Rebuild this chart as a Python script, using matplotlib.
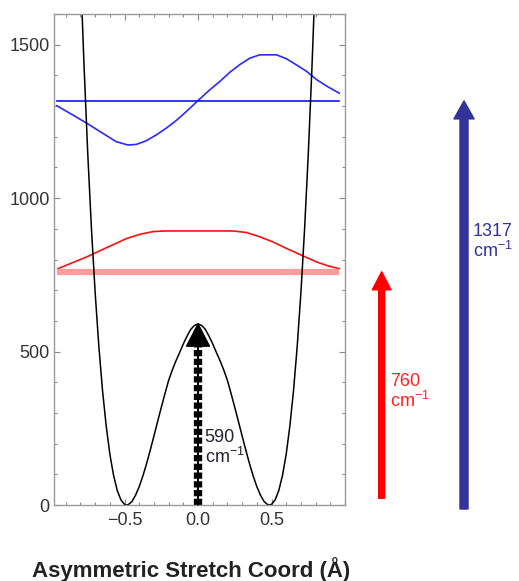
import matplotlib
matplotlib.use("Agg")
import matplotlib.pyplot as plt
from matplotlib.ticker import MultipleLocator

plt.rcParams['font.family'] = ['Liberation Sans', 'DejaVu Sans']
plt.rcParams['mathtext.fontset'] = 'custom'
plt.rcParams['mathtext.rm'] = 'Liberation Sans'

# double well potential
pot_x = [-0.8, -0.775, -0.75, -0.725, -0.7, -0.675, -0.65, -0.625, -0.6, -0.575, -0.55,
         -0.525, -0.5, -0.485, -0.475, -0.45, -0.425, -0.4, -0.375, -0.35, -0.325, -0.3,
         -0.275, -0.25, -0.225, -0.2, -0.175, -0.15, -0.125, -0.1, -0.075, -0.05, -0.025,
         0.0,
         0.025, 0.05, 0.075, 0.1, 0.125, 0.15, 0.175, 0.2, 0.225, 0.25, 0.275, 0.3,
         0.325, 0.35, 0.375, 0.4, 0.425, 0.45, 0.475, 0.485, 0.5, 0.525, 0.55,
         0.575, 0.6, 0.625, 0.65, 0.675, 0.7, 0.725, 0.75, 0.775, 0.8]
pot_v = [1747, 1424, 1142, 899, 692, 518, 374, 258, 166, 97, 48,
         17, 2, 0, 1, 11, 32, 60, 95, 135, 179, 225,
         272, 318, 363, 406, 440, 470, 497, 525, 550, 572, 585,
         590,
         585, 572, 550, 525, 497, 470, 440, 406, 363, 318, 272, 225,
         179, 135, 95, 60, 32, 11, 1, 0, 2, 17, 48,
         97, 166, 258, 374, 518, 692, 899, 1142, 1424, 1747]

# levels (cm-1)
barrier = 590
e0 = 760
e1 = 1317
level_x = [-0.957, 0.96]

# ground state wavefunction drawn on the 760 level
wf0_x = [-0.954, -0.852, -0.750, -0.670, -0.579, -0.488, -0.397, -0.306, -0.216, 0.011,
         0.239, 0.329, 0.420, 0.511, 0.602, 0.704, 0.807, 0.886, 0.961]
wf0_y = [770, 790, 810, 828, 848, 868, 882, 891, 893, 893,
         893, 888, 874, 857, 836, 814, 792, 779, 770]

# first excited wavefunction drawn on the 1317 level
wf1_x = [-0.961, -0.852, -0.750, -0.647, -0.557, -0.477, -0.420, -0.352, -0.284, -0.216,
         -0.148, -0.080, 0.000, 0.080, 0.148, 0.216, 0.284, 0.352, 0.420, 0.534,
         0.602, 0.670, 0.739, 0.807, 0.886, 0.961]
wf1_y = [1301, 1271, 1242, 1211, 1184, 1173, 1175, 1187, 1206, 1228,
         1253, 1282, 1318, 1353, 1380, 1410, 1435, 1456, 1467, 1467,
         1454, 1434, 1413, 1386, 1362, 1342]

fig = plt.figure(figsize=(5.19, 5.81), dpi=100)
ax = fig.add_axes([54/519, 1-505/581, 291/519, 491/581])

ax.plot(wf1_x, wf1_y, color='#2a2aff', lw=1.2)
ax.plot(level_x, [e1, e1], color='#1010ff', lw=1.2)
ax.plot(wf0_x, wf0_y, color='#ff1010', lw=1.2)
ax.plot(level_x, [e0, e0], color='#ff9c9c', lw=4.5, solid_capstyle='butt')
ax.plot(pot_x, pot_v, color='black', lw=1.1)

# dotted barrier arrow
ax.plot([0, 0], [0, barrier - 40], color='black', lw=6, dashes=(0.75, 0.3))
ax.annotate('', xy=(0, barrier), xytext=(0, 0),
            arrowprops=dict(width=0.01, headwidth=16.5, headlength=16, shrink=0,
                            color='black'))
ax.text(0.045, 186, '590\n$\\mathregular{cm^{-1}}$', color='#222233', fontsize=13,
        ha='left', va='center', linespacing=1.05)

# transition arrows to the right of the axes
ax.annotate('', xy=(1.126, e0), xytext=(1.126, 22),
            xycoords=('axes fraction', 'data'), textcoords=('axes fraction', 'data'),
            arrowprops=dict(width=4.3, headwidth=13.5, headlength=13, shrink=0,
                            color='#ff0000'), annotation_clip=False)
ax.annotate('', xy=(1.409, e1), xytext=(1.409, -13),
            xycoords=('axes fraction', 'data'), textcoords=('axes fraction', 'data'),
            arrowprops=dict(width=5.8, headwidth=14.5, headlength=13, shrink=0,
                            color='#333399'), annotation_clip=False)
ax.text(1.155, 369, '760\n$\\mathregular{cm^{-1}}$', color='#ff2020', fontsize=13,
        ha='left', va='center', linespacing=1.05, transform=ax.get_yaxis_transform())
ax.text(1.44, 856, '1317\n$\\mathregular{cm^{-1}}$', color='#333399', fontsize=13,
        ha='left', va='center', linespacing=1.05, transform=ax.get_yaxis_transform())

ax.set_xlim(-0.98, 1.0)
ax.set_ylim(0, 1600)
ax.set_xticks([-0.5, 0.0, 0.5])
ax.set_xticklabels(['\u22120.5', '0.0', '0.5'])
ax.set_yticks([0, 500, 1000, 1500])
ax.xaxis.set_minor_locator(MultipleLocator(0.1))
ax.yaxis.set_minor_locator(MultipleLocator(100))
ax.tick_params(which='both', direction='in', top=True, right=True, colors='#888888',
               labelcolor='#333333', labelsize=13, width=0.8)
ax.tick_params(which='major', length=4)
ax.tick_params(which='minor', length=2.5)
ax.tick_params(axis='y', pad=3)
ax.tick_params(axis='x', pad=5)
for s in ax.spines.values():
    s.set_color('#999999')
    s.set_linewidth(1.0)

fig.text(191.5/519, 1-570/581, 'Asymmetric Stretch Coord (\u00c5)', fontsize=16,
         fontweight='bold', color='#222222', ha='center', va='center')

fig.savefig('out.png', dpi=100)
